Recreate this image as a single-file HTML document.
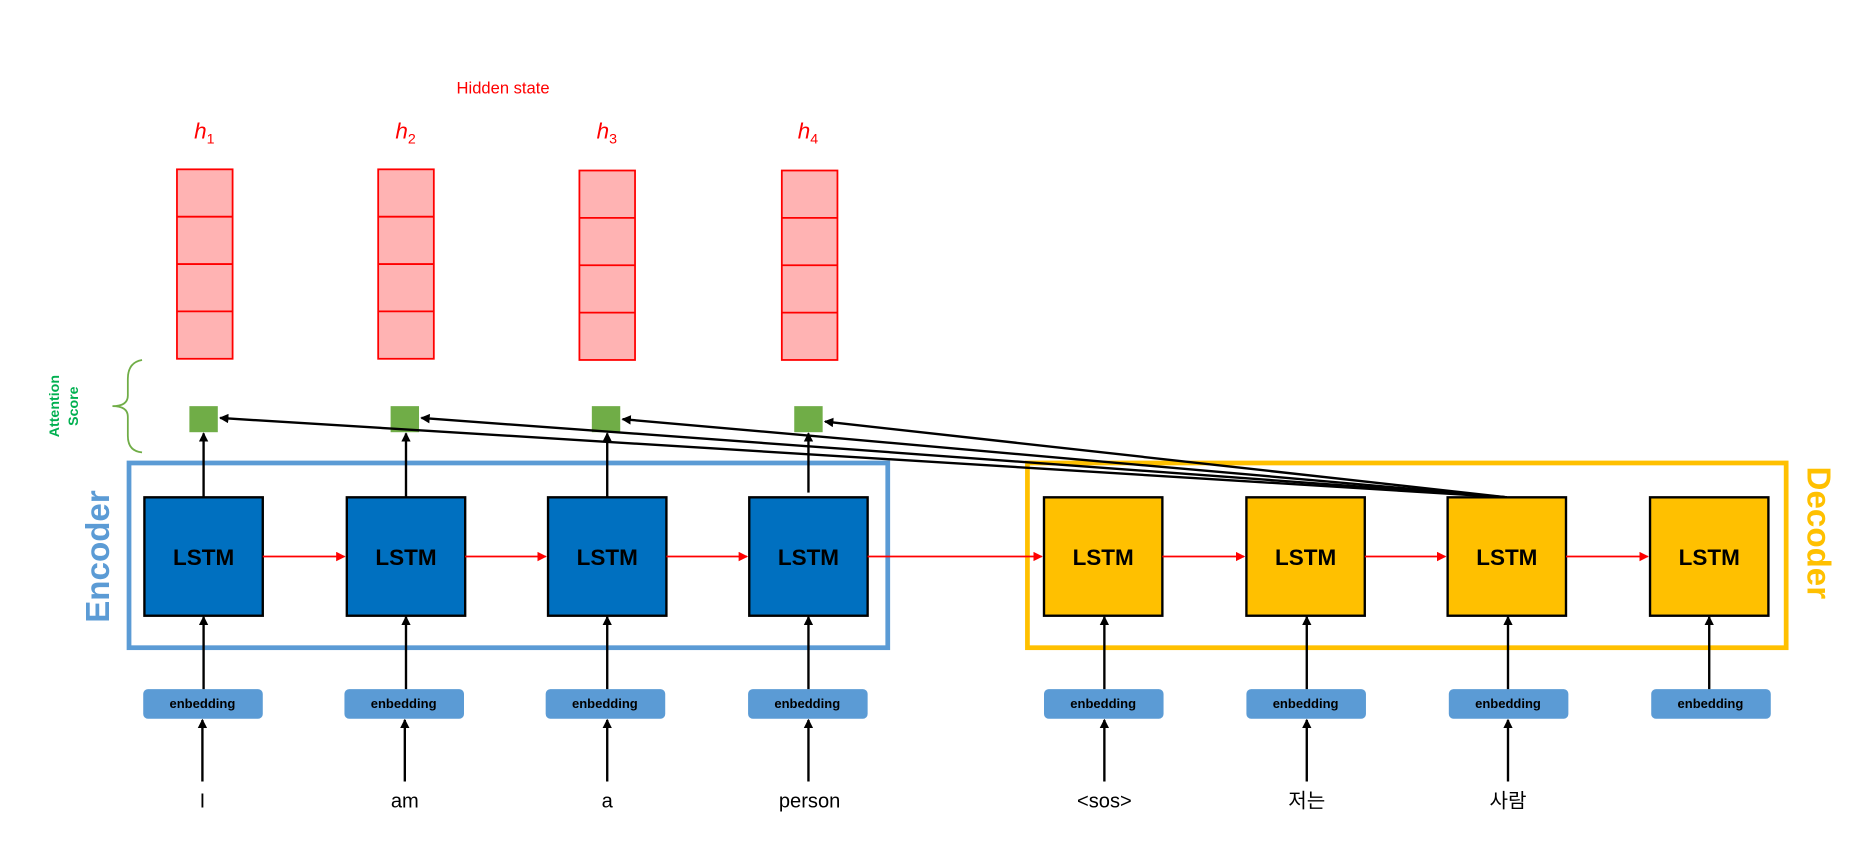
<!DOCTYPE html>
<html><head><meta charset="utf-8"><style>
html,body{margin:0;padding:0;background:#fff;width:1856px;height:849px;overflow:hidden}
svg{display:block}
text{font-family:"Liberation Sans","Noto Sans CJK KR",sans-serif}
</style></head><body>
<svg width="1856" height="849" viewBox="0 0 1568 717" preserveAspectRatio="none" xmlns="http://www.w3.org/2000/svg">
<defs>
<marker id="ab" markerWidth="8" markerHeight="8" refX="7" refY="4" orient="auto" markerUnits="userSpaceOnUse"><path d="M0,0 L8,4 L0,8 Z" fill="#000"/></marker>
<marker id="ar" markerWidth="8" markerHeight="8" refX="7" refY="4" orient="auto" markerUnits="userSpaceOnUse"><path d="M0,0 L8,4 L0,8 Z" fill="#f00"/></marker>
</defs>
<text x="425" y="79" font-size="14" fill="#f00" text-anchor="middle">Hidden state</text>
<g font-family="Liberation Serif,serif" font-style="italic" fill="#f00" font-size="19">
<text x="164" y="117">h<tspan font-size="12" dy="4" font-style="normal">1</tspan></text>
<text x="334" y="117">h<tspan font-size="12" dy="4" font-style="normal">2</tspan></text>
<text x="504" y="117">h<tspan font-size="12" dy="4" font-style="normal">3</tspan></text>
<text x="674" y="117">h<tspan font-size="12" dy="4" font-style="normal">4</tspan></text>
</g>
<g fill="#ffb3b3" stroke="#f00" stroke-width="1.5">
<rect x="149.5" y="143" width="47" height="160"/><path d="M149.5 183h47M149.5 223h47M149.5 263h47"/>
<rect x="319.5" y="143" width="47" height="160"/><path d="M319.5 183h47M319.5 223h47M319.5 263h47"/>
<rect x="489.5" y="144" width="47" height="160"/><path d="M489.5 184h47M489.5 224h47M489.5 264h47"/>
<rect x="660.5" y="144" width="47" height="160"/><path d="M660.5 184h47M660.5 224h47M660.5 264h47"/>
</g>
<path d="M120 304 Q108 306 108 320 L108 334 Q108 343 95 343 Q108 343 108 352 L108 368 Q108 381 120 382" fill="none" stroke="#70ad47" stroke-width="1.5"/>
<text transform="translate(50,343) rotate(-90)" font-size="12" font-weight="bold" fill="#00b050" text-anchor="middle">Attention</text>
<text transform="translate(66,343) rotate(-90)" font-size="12" font-weight="bold" fill="#00b050" text-anchor="middle">Score</text>
<g fill="#70ad47"><rect x="160" y="343" width="24" height="22"/><rect x="330" y="343" width="24" height="22"/><rect x="500" y="343" width="24" height="22"/><rect x="671" y="343" width="24" height="22"/></g>
<rect x="109" y="391" width="641" height="156" fill="none" stroke="#5b9bd5" stroke-width="4"/>
<rect x="868" y="391" width="641" height="156" fill="none" stroke="#ffc000" stroke-width="4"/>
<text transform="translate(92,470) rotate(-90)" font-size="28" font-weight="bold" fill="#5b9bd5" text-anchor="middle">Encoder</text>
<text transform="translate(1527,450) rotate(90)" font-size="28" font-weight="bold" fill="#ffc000" text-anchor="middle">Decoder</text>
<g stroke="#000" stroke-width="2">
<rect x="122" y="420" width="100" height="100" fill="#0070c0"/>
<rect x="293" y="420" width="100" height="100" fill="#0070c0"/>
<rect x="463" y="420" width="100" height="100" fill="#0070c0"/>
<rect x="633" y="420" width="100" height="100" fill="#0070c0"/>
<rect x="882" y="420" width="100" height="100" fill="#ffc000"/>
<rect x="1053" y="420" width="100" height="100" fill="#ffc000"/>
<rect x="1223" y="420" width="100" height="100" fill="#ffc000"/>
<rect x="1394" y="420" width="100" height="100" fill="#ffc000"/>
</g>
<g font-size="19" font-weight="bold" text-anchor="middle" fill="#000">
<text x="172" y="477">LSTM</text><text x="343" y="477">LSTM</text><text x="513" y="477">LSTM</text><text x="683" y="477">LSTM</text>
<text x="932" y="477">LSTM</text><text x="1103" y="477">LSTM</text><text x="1273" y="477">LSTM</text><text x="1444" y="477">LSTM</text>
</g>
<g stroke="#f00" stroke-width="1.5" marker-end="url(#ar)">
<line x1="222" y1="470" x2="291" y2="470"/><line x1="393" y1="470" x2="461" y2="470"/><line x1="563" y1="470" x2="631" y2="470"/>
<line x1="733" y1="470" x2="880" y2="470"/><line x1="982" y1="470" x2="1051" y2="470"/><line x1="1153" y1="470" x2="1221" y2="470"/><line x1="1323" y1="470" x2="1392" y2="470"/>
</g>
<g fill="#5b9bd5">
<rect x="121" y="582" width="101" height="25" rx="4"/><rect x="291" y="582" width="101" height="25" rx="4"/><rect x="461" y="582" width="101" height="25" rx="4"/><rect x="632" y="582" width="101" height="25" rx="4"/>
<rect x="882" y="582" width="101" height="25" rx="4"/><rect x="1053" y="582" width="101" height="25" rx="4"/><rect x="1224" y="582" width="101" height="25" rx="4"/><rect x="1395" y="582" width="101" height="25" rx="4"/>
</g>
<g font-size="11" font-weight="bold" text-anchor="middle" fill="#000">
<text x="171" y="598">enbedding</text><text x="341" y="598">enbedding</text><text x="511" y="598">enbedding</text><text x="682" y="598">enbedding</text>
<text x="932" y="598">enbedding</text><text x="1103" y="598">enbedding</text><text x="1274" y="598">enbedding</text><text x="1445" y="598">enbedding</text>
</g>
<g stroke="#000" stroke-width="2" marker-end="url(#ab)">
<line x1="172" y1="420" x2="172" y2="366"/><line x1="343" y1="420" x2="343" y2="366"/><line x1="513" y1="420" x2="513" y2="366"/><line x1="683" y1="416" x2="683" y2="366"/>
<line x1="172" y1="582" x2="172" y2="521"/><line x1="343" y1="582" x2="343" y2="521"/><line x1="513" y1="582" x2="513" y2="521"/><line x1="683" y1="582" x2="683" y2="521"/>
<line x1="933" y1="582" x2="933" y2="521"/><line x1="1104" y1="582" x2="1104" y2="521"/><line x1="1274" y1="582" x2="1274" y2="521"/><line x1="1444" y1="582" x2="1444" y2="521"/>
<line x1="171" y1="660" x2="171" y2="608"/><line x1="342" y1="660" x2="342" y2="608"/><line x1="513" y1="660" x2="513" y2="608"/><line x1="683" y1="660" x2="683" y2="608"/>
<line x1="933" y1="660" x2="933" y2="608"/><line x1="1104" y1="660" x2="1104" y2="608"/><line x1="1274" y1="660" x2="1274" y2="608"/>
<line x1="1273" y1="420" x2="186" y2="353"/><line x1="1273" y1="420" x2="356" y2="353"/><line x1="1273" y1="420" x2="526" y2="354"/><line x1="1273" y1="420" x2="697" y2="356"/>
</g>
<g font-size="17" text-anchor="middle" fill="#000">
<text x="171" y="682">I</text><text x="342" y="682">am</text><text x="513" y="682">a</text><text x="684" y="682">person</text>
<text x="933" y="682">&lt;sos&gt;</text><text x="1104" y="682">저는</text><text x="1274" y="682">사람</text>
</g>
</svg>
</body></html>
